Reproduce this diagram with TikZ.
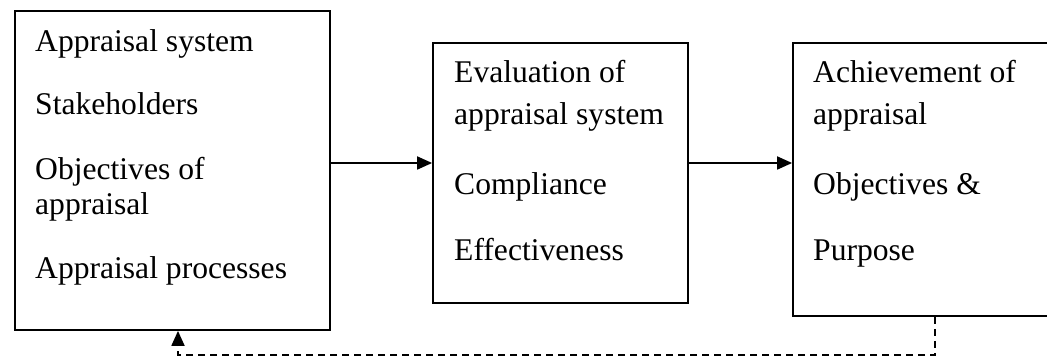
\documentclass[tikz,border=0pt]{standalone}
\usepackage{fontspec}
\setmainfont{Liberation Serif}
\usetikzlibrary{arrows.meta}

\tikzset{
  box/.style={draw, line width=1.8pt, inner sep=0pt},
  txt/.style={anchor=base west, inner sep=0pt, font=\fontsize{31.6}{35}\selectfont},
  flow/.style={line width=1.8pt, -{Triangle[length=15pt,width=13pt]}},
  back/.style={line width=1.8pt, dash pattern=on 7pt off 5pt, -{Triangle[length=15pt,width=13pt]}}
}

\begin{document}
\begin{tikzpicture}[x=1pt, y=-1pt]
  \useasboundingbox (0,0) rectangle (1047,358);

  % Kaesten
  \node[box, minimum width=315pt, minimum height=319pt] (sys) at (172.5,170.5) {};
  \node[box, minimum width=255pt, minimum height=260pt] (eval) at (560.5,173) {};
  \node[box, minimum width=270pt, minimum height=273pt] (achv) at (928,179.5) {};

  % Texte links
  \node[txt] (sys1) at (35,52) {Appraisal system};
  \node[txt] (sys2) at (35,115) {Stakeholders};
  \node[txt] (sys3) at (35,180) {Objectives of};
  \node[txt] (sys4) at (35,215) {appraisal};
  \node[txt] (sys5) at (35,278) {Appraisal processes};

  % Texte Mitte
  \node[txt] (eval1) at (454,83) {Evaluation of};
  \node[txt] (eval2) at (454,125) {appraisal system};
  \node[txt] (eval3) at (454,195) {Compliance};
  \node[txt] (eval4) at (454,261) {Effectiveness};

  % Texte rechts
  \node[txt] (achv1) at (813,83) {Achievement of};
  \node[txt] (achv2) at (813,125) {appraisal};
  \node[txt] (achv3) at (813,195) {Objectives \&};
  \node[txt] (achv4) at (813,261) {Purpose};

  % Pfeile
  \draw[flow] (sys.east |- 0,163) -- (eval.west |- 0,163);
  \draw[flow] (eval.east |- 0,163) -- (achv.west |- 0,163);

  % Rueckkopplung
  \coordinate (r1) at (935,355);
  \coordinate (r2) at (178,355);
  \draw[back] (achv.south -| r1) -- (r1) -- (r2) -- (sys.south -| r2);
\end{tikzpicture}
\end{document}
